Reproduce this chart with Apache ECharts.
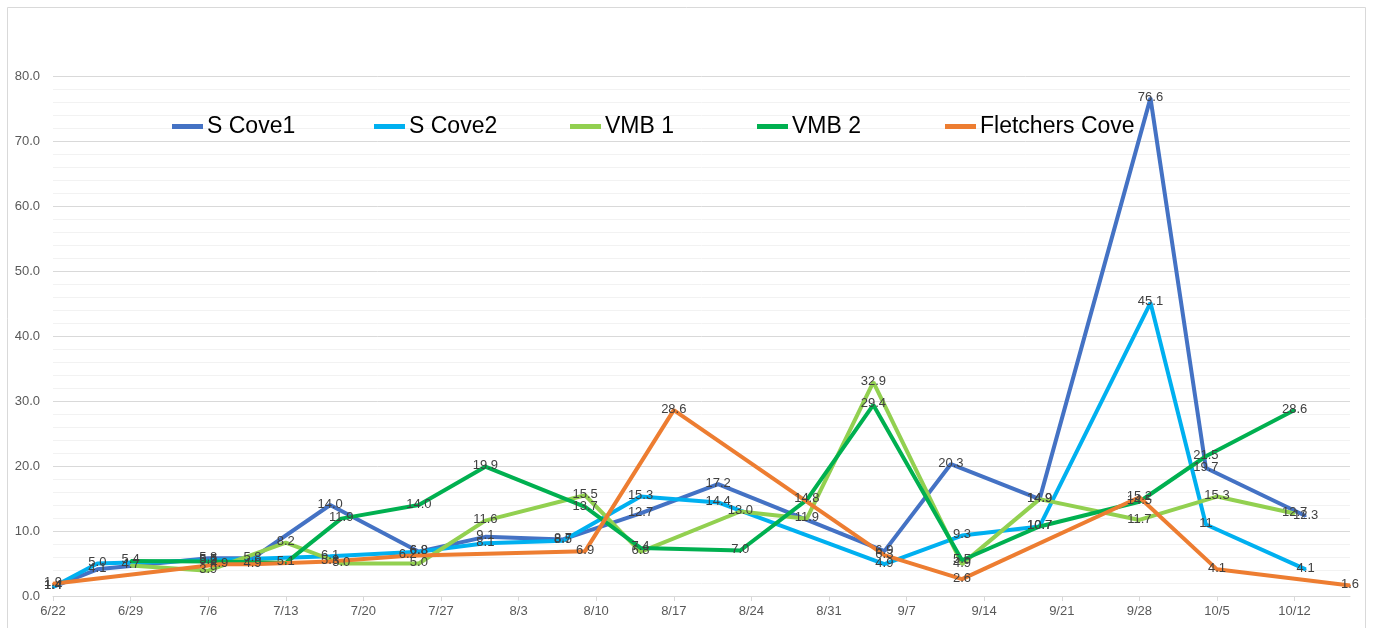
<!DOCTYPE html>
<html>
<head>
<meta charset="utf-8">
<script src="https://cdn.jsdelivr.net/npm/echarts@6/dist/echarts.min.js"></script>
<style>
html,body{margin:0;padding:0;background:#fff;}
#c{width:1373px;height:628px;}
</style>
</head>
<body>
<div id="c"></div>
<script>
// ---- data ----
const seriesNames = ['S Cove1', 'S Cove2', 'VMB 1', 'VMB 2', 'Fletchers Cove'];
const seriesColors = ['#4472C4', '#00B0F0', '#92D050', '#00B050', '#ED7D31'];

const sCove1Dates = ['6/22','6/26','7/6','7/10','7/17','7/25','7/31','8/7','8/14','8/21','9/5','9/11','9/19','9/29','10/4','10/13'];
const sCove1Vals  = [1.4, 4.1, 5.8, 5.8, 14.0, 6.8, 9.1, 8.7, 12.7, 17.2, 6.9, 20.3, 14.9, 76.6, 19.7, 12.3];

const sCove2Dates = ['6/22','6/26','7/6','7/17','7/25','7/31','8/7','8/14','8/21','9/5','9/12','9/19','9/29','10/4','10/13'];
const sCove2Vals  = [1.4, 5.0, 5.5, 6.1, 6.8, 8.1, 8.5, 15.3, 14.4, 4.9, 9.3, 10.7, 45.1, 11, 4.1];

const vmb1Dates = ['6/29','7/6','7/13','7/18','7/25','7/31','8/9','8/14','8/23','8/29','9/4','9/12','9/19','9/28','10/5','10/12'];
const vmb1Vals  = [4.7, 3.9, 8.2, 5.0, 5.0, 11.6, 15.5, 6.8, 13.0, 11.9, 32.9, 4.9, 14.9, 11.7, 15.3, 12.7];

const vmb2Dates = ['6/29','7/6','7/13','7/18','7/25','7/31','8/9','8/14','8/23','8/29','9/4','9/12','9/19','9/28','10/4','10/12'];
const vmb2Vals  = [5.4, 5.3, 5.1, 11.9, 14.0, 19.9, 13.7, 7.4, 7.0, 14.8, 29.4, 5.5, 10.7, 14.5, 21.5, 28.6];

const fletchDates = ['6/22','7/7','7/10','7/17','7/24','8/9','8/17','9/5','9/12','9/28','10/5','10/17'];
const fletchVals  = [1.9, 4.9, 4.9, 5.3, 6.2, 6.9, 28.6, 6.3, 2.6, 15.2, 4.1, 1.6];

const startDate = '6/22';
const endDate = '10/17';
const yMin = 0, yMax = 80, yStep = 10;

// ---- helpers ----
const YEAR = 2020;
function dayNum(s){ const [m,d]=s.split('/').map(Number); return Date.UTC(YEAR,m-1,d)/86400000; }
const base = dayNum(startDate);
function off(s){ return dayNum(s)-base; }
function toLabel(v){ const dt=new Date((base+v)*86400000); return (dt.getUTCMonth()+1)+'/'+dt.getUTCDate(); }

const allDates = [sCove1Dates, sCove2Dates, vmb1Dates, vmb2Dates, fletchDates];
const allVals  = [sCove1Vals, sCove2Vals, vmb1Vals, vmb2Vals, fletchVals];
const FONT = 'Liberation Sans, Arial, sans-serif';

const series = seriesNames.map((n,i)=>({
  name:n, type:'line',
  data: allDates[i].map((d,j)=>[off(d), allVals[i][j]]),
  symbol:'circle', symbolSize:2, showSymbol:true,
  lineStyle:{width:4, color:seriesColors[i]},
  itemStyle:{color:seriesColors[i]},
  label:{show:true, position:'inside', fontSize:13, color:'#404040', fontFamily:FONT, offset:[0,-1],
    formatter:p=>{ const v=p.value[1]; return (n==='S Cove2' && v===11) ? '11' : v.toFixed(1); }},
  emphasis:{disabled:true},
  animation:false
}));

const legendLefts = [172, 374, 570, 757, 945];
const legends = seriesNames.map((n,i)=>({
  data:[{name:n, icon:'rect'}], left:legendLefts[i], top:115, padding:0,
  itemWidth:31, itemHeight:5, itemGap:6,
  textStyle:{fontSize:23, color:'#000', fontFamily:FONT, padding:[0,0,0,-1]},
  selectedMode:false
}));

const chart = echarts.init(document.getElementById('c'));
chart.setOption({
  animation:false,
  backgroundColor:'#fff',
  graphic:[{type:'rect', shape:{x:7.5,y:7.5,width:1358,height:640}, style:{fill:'none', stroke:'#d9d9d9', lineWidth:1}, silent:true, z:-1}],
  grid:{left:53, right:23, top:76, bottom:32, containLabel:false},
  legend: legends,
  xAxis:{type:'value', min:0, max:off(endDate), interval:7,
    axisLine:{lineStyle:{color:'#d9d9d9'}},
    axisTick:{show:true, length:5, lineStyle:{color:'#d9d9d9'}},
    axisLabel:{color:'#595959', fontSize:13, fontFamily:FONT, margin:9,
      formatter:v=>toLabel(v), showMaxLabel:false},
    splitLine:{show:false}},
  yAxis:{type:'value', min:yMin, max:yMax, interval:yStep,
    axisLine:{show:false}, axisTick:{show:false},
    axisLabel:{color:'#595959', fontSize:13, fontFamily:FONT, margin:13, formatter:v=>v.toFixed(1)},
    splitLine:{show:true, lineStyle:{color:'#d9d9d9', width:1}},
    minorTick:{show:false, splitNumber:5},
    minorSplitLine:{show:true, lineStyle:{color:'#f2f2f2', width:1}}},
  series: series
});
</script>
</body>
</html>
